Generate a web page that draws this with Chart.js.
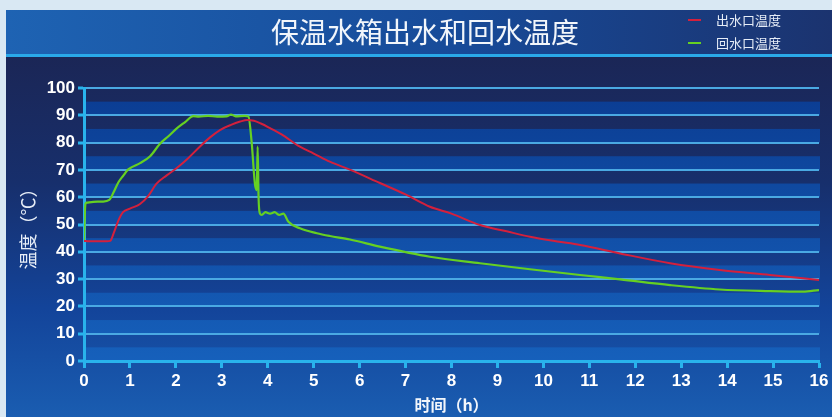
<!DOCTYPE html>
<html>
<head>
<meta charset="utf-8">
<script src="https://cdn.jsdelivr.net/npm/chart.js@4/dist/chart.umd.min.js"></script>
<style>
  html, body { margin: 0; padding: 0; background: #d9e8f3; }
  #wrap { width: 832px; height: 417px; }
</style>
</head>
<body>
<div id="wrap"><canvas id="c" width="832" height="417"></canvas></div>
<script>
// Chart text
const chartTitle = '保温水箱出水和回水温度';
const seriesNames = ['出水口温度', '回水口温度'];
const xTitle = '时间（h）';
const yTitle = '温度（℃）';

// Outlet temperature (hours, °C)
const outletHours = [0, 0.1, 0.3, 0.5, 0.57, 0.65, 0.75, 0.85, 1.0, 1.22, 1.4, 1.58, 1.8, 2.02, 2.25, 2.52, 2.75, 2.96, 3.2, 3.4, 3.55, 3.7, 3.85, 4.05, 4.3, 4.7, 5.0, 5.35, 5.8, 6.44, 7.0, 7.53, 8.0, 8.62, 9.2, 9.71, 10.3, 10.8, 11.67, 12.76, 13.84, 14.93, 16];
const outletTemps = [44, 43.9, 43.9, 43.9, 44, 47, 51.5, 54.5, 55.8, 57.5, 60.5, 65, 68, 70.7, 74, 78.5, 82, 84.6, 86.5, 87.7, 88.3, 88, 87, 85.3, 83, 78.5, 76, 73, 70, 65.2, 61, 56.5, 54, 49.8, 47.5, 45.5, 43.8, 42.5, 39.4, 35.8, 33.3, 31.5, 29.7];

// Return temperature (hours, °C)
const returnHours = [0, 0.03, 0.06, 0.2, 0.4, 0.55, 0.65, 0.75, 0.86, 0.95, 1.04, 1.22, 1.44, 1.65, 1.85, 2.02, 2.2, 2.38, 2.5, 2.7, 2.9, 3.1, 3.2, 3.3, 3.5, 3.58, 3.65, 3.72, 3.76, 3.78, 3.8, 3.83, 3.87, 3.95, 4.05, 4.15, 4.25, 4.34, 4.45, 4.7, 5.07, 5.35, 5.79, 6.44, 7.53, 8.62, 9.71, 10.8, 11.67, 12.76, 13.84, 14.93, 15.65, 16];
const returnTemps = [44, 57.5, 58, 58.3, 58.4, 59, 62, 65.5, 68, 70, 71, 72.5, 75, 79.5, 82.5, 85.2, 87.5, 89.7, 89.5, 89.8, 89.5, 89.6, 90.3, 89.6, 89.8, 89.5, 80, 65, 62.6, 78.5, 60, 54, 53.5, 54.5, 54, 54.5, 53.5, 54, 51, 48.6, 46.8, 45.8, 44.5, 41.9, 38.2, 35.8, 33.6, 31.5, 29.9, 27.8, 26.2, 25.6, 25.4, 26];

// Axis ticks
const xTicks = [0, 16, 1];     // min, max, step
const yTicks = [0, 100, 5];    // min, max, step (labels every 10)

const seriesColors = ['#d4203c', '#66d022'];
const axisCyan = '#29b3ec';
const gridCyan = '#4aa9e3';

function toPoints(xs, ys) { return xs.map((x, i) => ({ x: x, y: ys[i] })); }

// Panel, title bar and banded plot background
const backdrop = {
  id: 'backdrop',
  beforeDraw(chart) {
    const { ctx, chartArea: a, scales: { y } } = chart;
    const W = chart.width, H = chart.height;
    ctx.save();
    ctx.fillStyle = '#d9e8f3';
    ctx.fillRect(0, 0, W, H);

    const pg = ctx.createLinearGradient(0, 56, 0, H);
    pg.addColorStop(0, '#1b2656');
    pg.addColorStop(0.35, '#172f6c');
    pg.addColorStop(0.7, '#13449a');
    pg.addColorStop(1, '#1a5db1');
    ctx.fillStyle = pg;
    ctx.fillRect(6, 10, W - 6, H - 10);

    const tg = ctx.createLinearGradient(6, 0, W, 0);
    tg.addColorStop(0, '#1e63b3');
    tg.addColorStop(0.55, '#174a98');
    tg.addColorStop(1, '#1b336f');
    ctx.fillStyle = tg;
    ctx.fillRect(6, 10, W - 6, 44);
    ctx.fillStyle = '#2aa9e9';
    ctx.fillRect(6, 54, W - 6, 3);

    // blue bands on every other 5-degree strip
    const bg = ctx.createLinearGradient(0, a.top, 0, a.bottom);
    bg.addColorStop(0, '#0b3c92');
    bg.addColorStop(1, '#1660bb');
    ctx.fillStyle = bg;
    for (let v = 0; v < 100; v += 10) {
      const y1 = y.getPixelForValue(v + 5), y0 = y.getPixelForValue(v);
      ctx.fillRect(a.left, y1, a.right - a.left + 1, y0 - y1);
    }

    // title
    ctx.fillStyle = '#f2f6fb';
    ctx.font = '28px "Noto Sans CJK SC"';
    ctx.textAlign = 'center';
    ctx.textBaseline = 'middle';
    ctx.fillText(chartTitle, 425, 32);

    // legend
    ctx.font = '13px "Noto Sans CJK SC"';
    ctx.textAlign = 'left';
    chart.data.datasets.forEach((ds, i) => {
      const yy = 20 + i * 23;
      ctx.strokeStyle = ds.borderColor;
      ctx.lineWidth = 2;
      ctx.beginPath();
      ctx.moveTo(688, yy);
      ctx.lineTo(701, yy);
      ctx.stroke();
      ctx.fillStyle = '#e6edf7';
      ctx.fillText(ds.label, 716, yy);
    });
    ctx.restore();
  }
};

new Chart(document.getElementById('c'), {
  type: 'line',
  data: {
    datasets: [
      { label: seriesNames[0], data: toPoints(outletHours, outletTemps), borderColor: seriesColors[0], borderWidth: 2, pointRadius: 0, cubicInterpolationMode: 'monotone' },
      { label: seriesNames[1], data: toPoints(returnHours, returnTemps), borderColor: seriesColors[1], borderWidth: 2.2, pointRadius: 0, cubicInterpolationMode: 'monotone' }
    ]
  },
  options: {
    responsive: false,
    animation: false,
    devicePixelRatio: 1,
    layout: { padding: { top: 88, right: 13, left: 0, bottom: 0 } },
    plugins: { legend: { display: false }, title: { display: false }, tooltip: { enabled: false } },
    scales: {
      x: {
        type: 'linear',
        min: xTicks[0], max: xTicks[1],
        afterFit(s) { s.height = 56; },
        ticks: { stepSize: xTicks[2], color: '#ffffff', padding: 3, font: { family: '"Liberation Sans"', size: 17, weight: 'bold' }, maxRotation: 0 },
        grid: { drawOnChartArea: false, tickLength: 7, tickColor: axisCyan, tickWidth: 3 },
        border: { color: axisCyan, width: 3 },
        title: { display: true, text: xTitle, color: '#f2f6fb', padding: { top: 0, bottom: 2 }, font: { family: '"Noto Sans CJK SC"', size: 16, weight: 'bold' } }
      },
      y: {
        min: yTicks[0], max: yTicks[1],
        afterFit(s) { s.width = 84; },
        ticks: {
          stepSize: yTicks[2], color: '#ffffff', padding: 3,
          font: { family: '"Liberation Sans"', size: 17, weight: 'bold' },
          callback: v => (v % 10 === 0 ? v : '')
        },
        grid: {
          color: gridCyan, lineWidth: 2, tickLength: 6, tickWidth: 3,
          tickColor: c => (c.tick && c.tick.value % 10 === 0 ? axisCyan : 'rgba(0,0,0,0)')
        },
        border: { color: axisCyan, width: 3 },
        title: { display: true, text: yTitle, color: '#e6edf7', padding: { top: 17, bottom: 0 }, font: { family: '"Noto Sans CJK SC"', size: 18 } }
      }
    }
  },
  plugins: [backdrop]
});
</script>
</body>
</html>
